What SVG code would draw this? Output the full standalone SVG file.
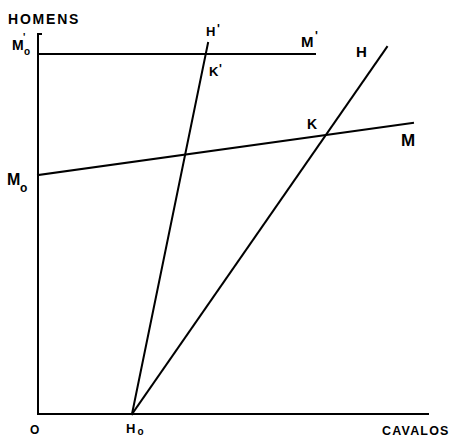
<svg xmlns="http://www.w3.org/2000/svg" width="455" height="437" viewBox="0 0 455 437">
<style>
.ln{stroke:#000;stroke-width:2;fill:none;stroke-linecap:square}
.t{font-family:"Liberation Sans",Arial,sans-serif;font-weight:bold;fill:#000}
.ax{font-size:14px;letter-spacing:1.8px}
.cv{font-size:12.5px;letter-spacing:1.2px}
.lb{font-size:15px}
.sb{font-size:10px}
.pr{font-size:12px}
</style>
<rect width="455" height="437" fill="#fff"/>
<g id="connectors">
<path class="ln" d="M41,34 H38 V414 H428"/>
<line class="ln" x1="38" y1="54" x2="315" y2="54"/>
<line class="ln" x1="38" y1="175" x2="413" y2="123"/>
<line class="ln" x1="132" y1="414" x2="208" y2="43"/>
<line class="ln" x1="132" y1="414" x2="387" y2="47"/>
</g>
<g id="homens"><text class="t ax" x="8" y="24">HOMENS</text></g>
<g id="cavalos"><text class="t cv" x="382" y="435">CAVALOS</text></g>
<g id="O"><text class="t" x="30" y="434" style="font-size:12px">O</text></g>
<g id="H0"><text class="t" x="126" y="433" style="font-size:13px">H<tspan class="sb" dx="2" dy="2">o</tspan></text></g>
<g id="M0p"><text class="t" x="12" y="50" style="font-size:14px">M</text><text class="t sb" x="23" y="41">'</text><text class="t sb" x="24" y="55">o</text></g>
<g id="M0"><text class="t" x="7" y="185" style="font-size:16px">M</text><text class="t" x="20" y="192" style="font-size:12px">o</text></g>
<g id="Hp"><text class="t" x="206" y="36" style="font-size:13px">H</text><text class="t pr" x="217" y="33">'</text></g>
<g id="Mp"><text class="t" x="301" y="47" style="font-size:15px">M</text><text class="t pr" x="315" y="40">'</text></g>
<g id="Kp"><text class="t" x="209" y="76" style="font-size:13px">K</text><text class="t pr" x="219" y="73">'</text></g>
<g id="H"><text class="t lb" x="356" y="57">H</text></g>
<g id="K"><text class="t" x="307" y="129" style="font-size:14px">K</text></g>
<g id="M"><text class="t" x="401" y="146" style="font-size:17px">M</text></g>
</svg>
